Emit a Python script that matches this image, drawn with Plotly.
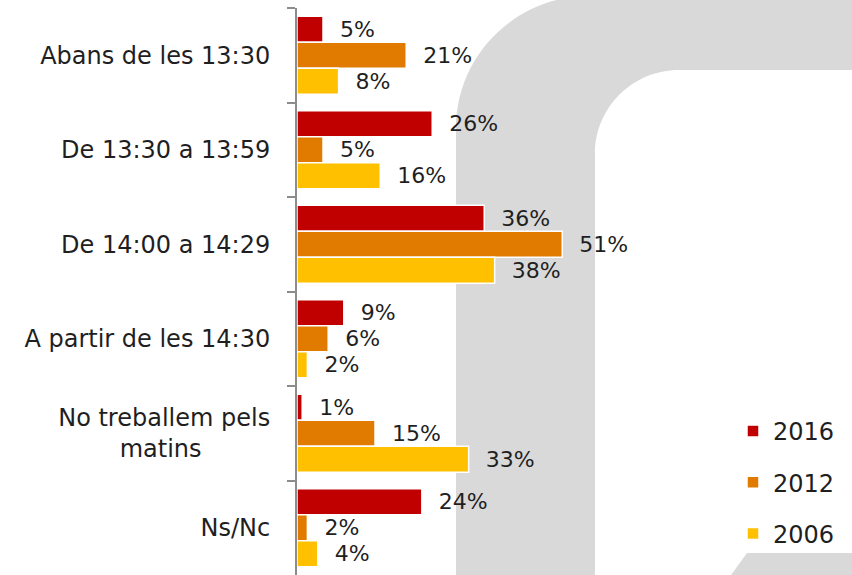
import plotly.graph_objects as go

# Survey answers: time people finish morning work
categories = [
    "Abans de les 13:30",
    "De 13:30 a 13:59",
    "De 14:00 a 14:29",
    "A partir de les 14:30",
    "No treballem pels<br>matins" + "\u00a0" * 9,
    "Ns/Nc",
]
years = ["2016", "2012", "2006"]
values_2016 = [5, 26, 36, 9, 1, 24]
values_2012 = [21, 5, 51, 6, 15, 2]
values_2006 = [8, 16, 38, 2, 33, 4]
series = [values_2016, values_2012, values_2006]
colors = ["#C00000", "#E07B00", "#FFC000"]

W, H = 852, 575
ML, MR, MT, MB = 297, 0, 8, 0
PW, PH = W - ML - MR, H - MT - MB
FONT = "DejaVu Sans"


def px(x, y):
    """Pixel position on the page -> paper coordinates string."""
    return f"{(x - ML) / PW:.5f},{(H - MB - y) / PH:.5f}"


def arch_path():
    k = 0.5523
    r_out, cx_o, cy_o = 132, 589, 128
    r_in, cx_i, cy_i = 84, 679, 154
    p = []
    p.append("M" + px(456, 600))
    p.append("L" + px(456, cy_o))
    p.append("C" + px(456, cy_o - k * r_out) + " " + px(cx_o - k * r_out, cy_o - r_out)
             + " " + px(cx_o, cy_o - r_out))
    p.append("L" + px(870, cy_o - r_out))
    p.append("L" + px(870, 70))
    p.append("L" + px(cx_i, 70))
    p.append("C" + px(cx_i - k * r_in, 70) + " " + px(595, cy_i - k * r_in) + " " + px(595, cy_i))
    p.append("L" + px(595, 600))
    p.append("Z")
    return " ".join(p)


def corner_path():
    return " ".join([
        "M" + px(747, 553), "L" + px(870, 553), "L" + px(870, 600), "L" + px(713, 600), "Z"
    ])


fig = go.Figure()
for name, vals, col in zip(years, series, colors):
    fig.add_trace(go.Bar(
        y=categories,
        x=vals,
        name=name,
        orientation="h",
        marker=dict(color=col, line=dict(color="white", width=1.5)),
        texttemplate="\u00a0\u00a0%{x}%",
        textposition="outside",
        textfont=dict(family=FONT, size=22, color="#1f1f1f"),
        constraintext="none",
        cliponaxis=False,
        legendgroup=name,
        hoverinfo="skip",
    ))

fig.update_layout(
    width=W,
    height=H,
    margin=dict(l=ML, r=MR, t=MT, b=MB),
    paper_bgcolor="white",
    plot_bgcolor="rgba(0,0,0,0)",
    barmode="group",
    bargap=0.175,
    bargroupgap=0,
    font=dict(family=FONT, size=24, color="#1f1f1f"),
    shapes=[
        dict(type="path", xref="paper", yref="paper", path=arch_path(),
             fillcolor="#D9D9D9", line=dict(width=0), layer="below"),
        dict(type="path", xref="paper", yref="paper", path=corner_path(),
             fillcolor="#D9D9D9", line=dict(width=0), layer="below"),
    ],
    legend=dict(
        x=(733 - ML) / PW,
        y=(H - 409) / PH,
        xanchor="left",
        yanchor="top",
        traceorder="grouped",
        tracegroupgap=17,
        bgcolor="rgba(0,0,0,0)",
        font=dict(family=FONT, size=24, color="#1f1f1f"),
    ),
    showlegend=True,
)

fig.update_xaxes(range=[0, 106.7], visible=False, showgrid=False, zeroline=False)
fig.update_yaxes(
    autorange="reversed",
    showline=True,
    linecolor="#8C8C8C",
    linewidth=2,
    ticks="outside",
    ticklen=8,
    tickwidth=2,
    tickcolor="#8C8C8C",
    tickson="boundaries",
    ticklabelstandoff=20,
    showgrid=False,
    zeroline=False,
    tickfont=dict(family=FONT, size=24, color="#1f1f1f"),
)

fig.write_html("out.html")
